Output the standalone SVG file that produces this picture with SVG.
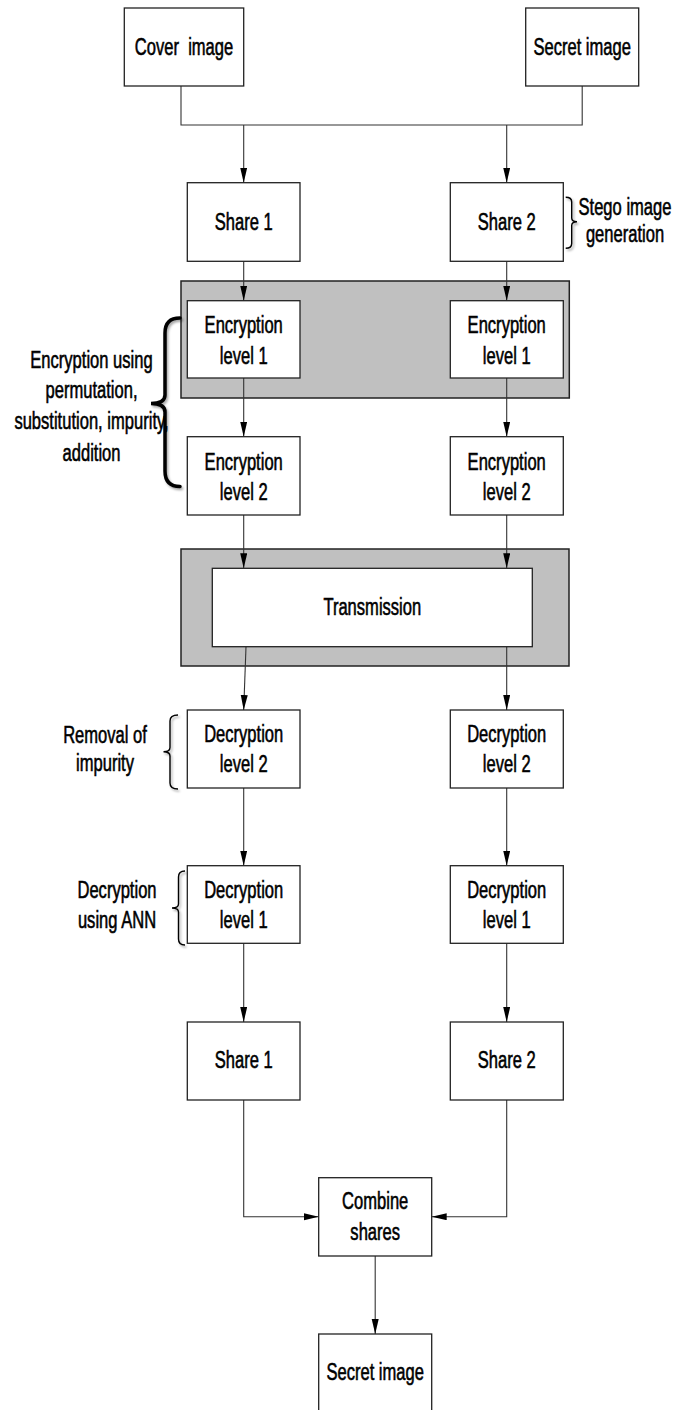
<svg xmlns="http://www.w3.org/2000/svg" width="676" height="1410" viewBox="0 0 676 1410">
  <style>
    .box { fill: #ffffff; stroke: #222; stroke-width: 1.3; }
    .panel { fill: #c0c0c0; stroke: #222; stroke-width: 1.5; }
    .t { font-family: "Liberation Sans", Arial, sans-serif; font-size: 24px; fill: #000; stroke: #000; stroke-width: 0.6; text-anchor: middle; }
    .c { fill: none; stroke: #333; stroke-width: 1.1; }
    .ca { fill: none; stroke: #333; stroke-width: 1.1; marker-end: url(#arr); }
    .brace { fill: none; stroke: #000; stroke-width: 1.4; filter: url(#sh); }
    .brace2 { fill: none; stroke: #000; stroke-width: 3.5; stroke-linecap: round; filter: url(#sh); }
  </style>
  <defs>
    <marker id="arr" markerUnits="userSpaceOnUse" markerWidth="16" markerHeight="8" refX="15" refY="3.5" orient="auto">
      <path d="M0,0 L15,3.5 L0,7 z" fill="#000"/>
    </marker>
    <filter id="sh" x="-50%" y="-10%" width="200%" height="120%">
      <feDropShadow dx="1.5" dy="2" stdDeviation="1.2" flood-color="#000" flood-opacity="0.35"/>
    </filter>
  </defs>
  <rect width="676" height="1410" fill="#ffffff"/>

  <!-- panels -->
  <g id="panel-encryption">
    <rect class="panel" x="181" y="281" width="388.3" height="117"/>
  </g>
  <g id="panel-transmission">
    <rect class="panel" x="181" y="549" width="388" height="117"/>
  </g>

  <!-- connectors -->
  <g id="connectors">
    <path class="c" d="M181,86 V125 H582.2 V86"/>
    <path class="ca" d="M243.7,125 V182.7"/>
    <path class="ca" d="M506.7,125 V182.7"/>
    <path class="ca" d="M243.7,261.3 V300.7"/>
    <path class="ca" d="M506.7,261.3 V300.7"/>
    <path class="ca" d="M243.7,378 V436.7"/>
    <path class="ca" d="M506.7,378 V436.7"/>
    <path class="ca" d="M243.7,515 V568.3"/>
    <path class="ca" d="M506.7,515 V568.3"/>
    <path class="ca" d="M246,646.7 L243.7,710"/>
    <path class="ca" d="M506.7,646.7 V710"/>
    <path class="ca" d="M243.7,788 V865.7"/>
    <path class="ca" d="M506.7,788 V865.7"/>
    <path class="ca" d="M243.7,943.3 V1022"/>
    <path class="ca" d="M506.7,943.3 V1022"/>
    <path class="ca" d="M243.7,1100 V1216.7 H318.7"/>
    <path class="ca" d="M506.7,1100 V1216.7 H431.7"/>
    <path class="ca" d="M375.2,1256 V1334"/>
  </g>

  <!-- nodes -->
  <g id="cover-image">
    <rect class="box" x="124.3" y="8" width="119.4" height="78"/>
    <text class="t" xml:space="preserve" transform="translate(184,55) scale(0.69,1)">Cover  image</text>
  </g>
  <g id="secret-image-top">
    <rect class="box" x="525.7" y="8" width="113" height="78"/>
    <text class="t" transform="translate(582.2,55) scale(0.69,1)">Secret image</text>
  </g>
  <g id="share1-top">
    <rect class="box" x="187.3" y="182.7" width="112.7" height="78.6"/>
    <text class="t" transform="translate(243.7,230) scale(0.69,1)">Share 1</text>
  </g>
  <g id="share2-top">
    <rect class="box" x="450.3" y="182.7" width="113" height="78.6"/>
    <text class="t" transform="translate(506.7,230) scale(0.69,1)">Share 2</text>
  </g>
  <g id="enc1-left">
    <rect class="box" x="187.3" y="300.7" width="112.7" height="77.3"/>
    <text class="t" transform="translate(243.7,0) scale(0.69,1)"><tspan x="0" y="333.3">Encryption</tspan><tspan x="0" y="364">level 1</tspan></text>
  </g>
  <g id="enc1-right">
    <rect class="box" x="450.3" y="300.7" width="113" height="77.3"/>
    <text class="t" transform="translate(506.7,0) scale(0.69,1)"><tspan x="0" y="333.3">Encryption</tspan><tspan x="0" y="364">level 1</tspan></text>
  </g>
  <g id="enc2-left">
    <rect class="box" x="187.3" y="436.7" width="112.7" height="78.3"/>
    <text class="t" transform="translate(243.7,0) scale(0.69,1)"><tspan x="0" y="469.7">Encryption</tspan><tspan x="0" y="500.3">level 2</tspan></text>
  </g>
  <g id="enc2-right">
    <rect class="box" x="450.3" y="436.7" width="113" height="78.3"/>
    <text class="t" transform="translate(506.7,0) scale(0.69,1)"><tspan x="0" y="469.7">Encryption</tspan><tspan x="0" y="500.3">level 2</tspan></text>
  </g>
  <g id="transmission">
    <rect class="box" x="212.3" y="568.3" width="320" height="78.4"/>
    <text class="t" transform="translate(372.3,615) scale(0.69,1)">Transmission</text>
  </g>
  <g id="dec2-left">
    <rect class="box" x="187.3" y="710" width="112.7" height="78"/>
    <text class="t" transform="translate(243.7,0) scale(0.69,1)"><tspan x="0" y="741.7">Decryption</tspan><tspan x="0" y="771.7">level 2</tspan></text>
  </g>
  <g id="dec2-right">
    <rect class="box" x="450.3" y="710" width="113" height="78"/>
    <text class="t" transform="translate(506.7,0) scale(0.69,1)"><tspan x="0" y="741.7">Decryption</tspan><tspan x="0" y="771.7">level 2</tspan></text>
  </g>
  <g id="dec1-left">
    <rect class="box" x="187.3" y="865.7" width="112.7" height="77.6"/>
    <text class="t" transform="translate(243.7,0) scale(0.69,1)"><tspan x="0" y="897.7">Decryption</tspan><tspan x="0" y="928">level 1</tspan></text>
  </g>
  <g id="dec1-right">
    <rect class="box" x="450.3" y="865.7" width="113" height="77.6"/>
    <text class="t" transform="translate(506.7,0) scale(0.69,1)"><tspan x="0" y="897.7">Decryption</tspan><tspan x="0" y="928">level 1</tspan></text>
  </g>
  <g id="share1-bottom">
    <rect class="box" x="187.3" y="1022" width="112.7" height="78"/>
    <text class="t" transform="translate(243.7,1068) scale(0.69,1)">Share 1</text>
  </g>
  <g id="share2-bottom">
    <rect class="box" x="450.3" y="1022" width="113" height="78"/>
    <text class="t" transform="translate(506.7,1068) scale(0.69,1)">Share 2</text>
  </g>
  <g id="combine-shares">
    <rect class="box" x="318.7" y="1177.7" width="113" height="78.3"/>
    <text class="t" transform="translate(375.2,0) scale(0.69,1)"><tspan x="0" y="1209">Combine</tspan><tspan x="0" y="1240">shares</tspan></text>
  </g>
  <g id="secret-image-bottom">
    <rect class="box" x="318.7" y="1334" width="113" height="90"/>
    <text class="t" transform="translate(375.2,1380) scale(0.69,1)">Secret image</text>
  </g>

  <!-- annotations -->
  <g id="note-stego">
    <path class="brace" d="M565.7,197.3 Q571.7,197.3 571.7,202 L571.7,218 Q571.7,221.7 577,221.7 Q571.7,221.7 571.7,225.5 L571.7,243.5 Q571.7,248.3 565.7,248.3"/>
    <text class="t" transform="translate(625,0) scale(0.69,1)"><tspan x="0" y="215">Stego image</tspan><tspan x="0" y="241.7">generation</tspan></text>
  </g>
  <g id="note-encryption">
    <path class="brace2" d="M180,318 Q165,318 165,333 L165,395 Q165,403.5 151,403.5 Q165,403.5 165,412 L165,471 Q165,486.5 180,486.5"/>
    <text class="t" transform="translate(91.5,0) scale(0.69,1)"><tspan x="0" y="368.3">Encryption using</tspan><tspan x="0" y="398">permutation,</tspan><tspan x="0" y="429.5">substitution, impurity,</tspan><tspan x="0" y="461.5">addition</tspan></text>
  </g>
  <g id="note-removal">
    <path class="brace" d="M178,715 Q170,715 170,721 L170,747.5 Q170,751.7 163.5,751.7 Q170,751.7 170,756 L170,783 Q170,789 178,789"/>
    <text class="t" transform="translate(105,0) scale(0.69,1)"><tspan x="0" y="742.7">Removal of</tspan><tspan x="0" y="770.7">impurity</tspan></text>
  </g>
  <g id="note-ann">
    <path class="brace" d="M185,871 Q178.5,871 178.5,877 L178.5,904 Q178.5,908 172,908 Q178.5,908 178.5,912 L178.5,939 Q178.5,945 185,945"/>
    <text class="t" transform="translate(117,0) scale(0.69,1)"><tspan x="0" y="898.3">Decryption</tspan><tspan x="0" y="928.3">using ANN</tspan></text>
  </g>
</svg>
